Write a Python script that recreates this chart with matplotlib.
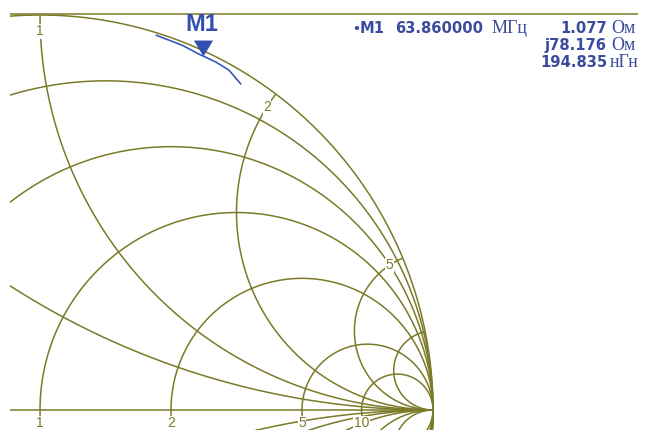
import numpy as np
import matplotlib
matplotlib.use("Agg")
import matplotlib.pyplot as plt

# ---- data -------------------------------------------------------------
Z0 = 50.0
resistance_circles = [0.2, 0.5, 1, 2, 5, 10]
reactance_circles = [0.5, 1, 2, 5, 10]
resistance_labels = ["1", "2", "5", "10"]
reactance_labels = ["1", "2", "5"]

# measured reflection coefficient along the sweep (real, imaginary)
refl_re = [0.2959, 0.3288, 0.3617, 0.4047, 0.4477, 0.4806, 0.5109]
refl_im = [0.9487, 0.9361, 0.9235, 0.9009, 0.8808, 0.8606, 0.8254]

marker_name = "M1"
marker_freq = "63.860000"
marker_r_ohm = 1.077
marker_x_ohm = 78.176
marker_l_nh = 194.835

# ---- style ------------------------------------------------------------
GRID = "#7a7a28"
BLUE = "#3b4c9f"
TRACE = "#3a56b8"
W, H = 649, 430

fig = plt.figure(figsize=(W / 100, H / 100), dpi=100)
ax = fig.add_axes([0, 0, 1, 1])
cx_px, cy_px, rx_px, ry_px = 40.0, 410.0, 393.0, 395.0
ax.set_xlim(-cx_px / rx_px, (W - cx_px) / rx_px)
ax.set_ylim((cy_px - H) / ry_px, cy_px / ry_px)
ax.axis("off")

left_clip = (10 - cx_px) / rx_px
clip_rect = plt.Rectangle((left_clip, -1.2), 3, 3, transform=ax.transData,
                          fill=False, visible=False)
ax.add_patch(clip_rect)

def gline(x, y, **kw):
    ln, = ax.plot(x, y, color=GRID, lw=1.1, solid_capstyle="butt", **kw)
    ln.set_clip_path(clip_rect)
    return ln

# outer circle
t = np.linspace(0, 2 * np.pi, 1500)
gline(np.cos(t), np.sin(t))

# constant-resistance circles
for r in resistance_circles:
    c, rad = r / (1 + r), 1 / (1 + r)
    gline(c + rad * np.cos(t), rad * np.sin(t))

# constant-reactance arcs (inside the unit circle)
for xv in reactance_circles:
    for s in (1, -1):
        rr = np.concatenate([np.linspace(0, 1, 300), np.logspace(0, 4, 400)])
        z = rr + 1j * s * xv
        g = (z - 1) / (z + 1)
        gline(g.real, g.imag)

# real axis and top rule
gline([left_clip, 1.0], [0, 0])
top_y = (cy_px - 14) / ry_px
gline([left_clip, (638 - cx_px) / rx_px], [top_y, top_y])

# resistance labels on the real axis
lab_kw = dict(color=GRID, fontsize=10, family="Liberation Sans",
              bbox=dict(facecolor="white", edgecolor="none", pad=0.3))
for lab in resistance_labels:
    r = float(lab)
    gx = (r - 1) / (r + 1)
    ax.text(gx, -6 / ry_px, lab, ha="center", va="top", **lab_kw)

# reactance labels just inside the rim
for lab in reactance_labels:
    xv = float(lab)
    g = (1j * xv - 1) / (1j * xv + 1)
    ang = np.angle(g)
    ax.text(0.963 * np.cos(ang), 0.963 * np.sin(ang) - 0.004, lab,
            ha="center", va="center", **lab_kw)

# measured trace
ax.plot(refl_re, refl_im, color=TRACE, lw=1.2, solid_capstyle="round")

# marker
zm = complex(marker_r_ohm, marker_x_ohm) / Z0
gm = (zm - 1) / (zm + 1)
tri = [(-0.6, 1.0), (0.6, 1.0), (0.0, 0.0), (-0.6, 1.0)]
ax.plot([gm.real], [gm.imag], marker=tri, markersize=23, color="#3350b0",
        markeredgewidth=0, linestyle="none")
ax.annotate(marker_name, (gm.real, gm.imag), xytext=(-1, 18),
            textcoords="offset points", ha="center", va="baseline",
            fontsize=17, fontweight="bold", family="Liberation Sans",
            color="#3350b0")

# marker readout
def ftxt(x, y, s, **kw):
    fig.text(x / W, 1 - y / H, s, color=BLUE, va="baseline", **kw)

num = dict(fontsize=10.6, fontweight="bold", family="DejaVu Sans")
unit = dict(fontsize=13, family="Liberation Serif")
ftxt(352, 33, "•", fontsize=9, family="DejaVu Sans", fontweight="bold")
ftxt(360, 33, marker_name, ha="left", **num)
ftxt(395, 33, marker_freq, ha="left", **num)
ftxt(492, 33, "МГц", ha="left", **unit)
ftxt(607, 33, f"{marker_r_ohm:.3f}", ha="right", **num)
ftxt(611, 33, "Ом", ha="left", **unit)
ftxt(607, 50, f"j{marker_x_ohm:.3f}", ha="right", **num)
ftxt(611, 50, "Ом", ha="left", **unit)
ftxt(607, 67, f"{marker_l_nh:.3f}", ha="right", **num)
ftxt(610, 67, "нГн", ha="left", **unit)

fig.savefig("out.png", dpi=100, facecolor="white")
